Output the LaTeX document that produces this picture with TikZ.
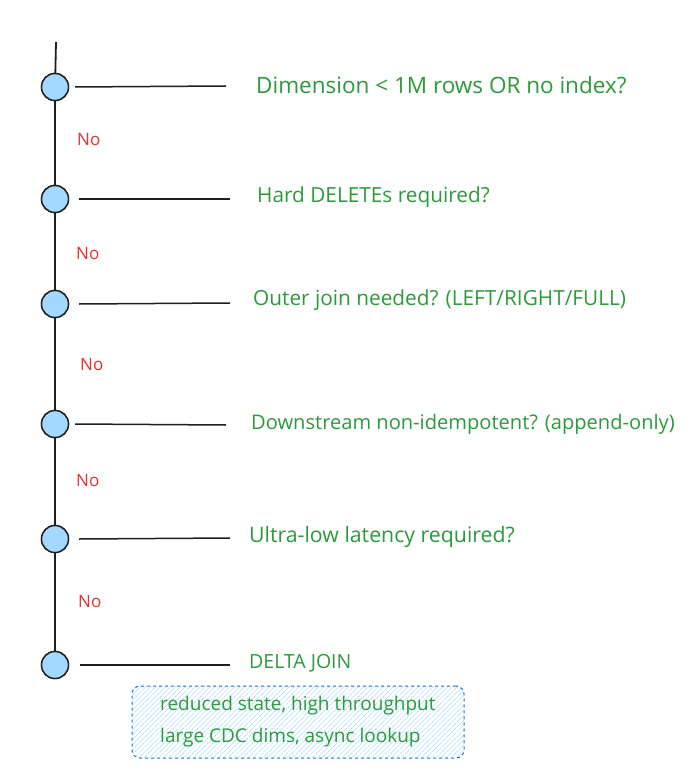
\documentclass[tikz,border=0pt]{standalone}
\usepackage{fontspec}
\setmainfont{Open Sans}
\usepackage{tikz}
\usetikzlibrary{positioning,patterns.meta}
\definecolor{dtInk}{HTML}{1E1E1E}
\definecolor{dtDot}{HTML}{A5D8FF}
\definecolor{dtAsk}{HTML}{2B9A3A}
\definecolor{dtNo}{HTML}{E03131}
\definecolor{dtEdge}{HTML}{1971C2}
\definecolor{dtHatch}{HTML}{A5D8FF}
\tikzset{
  spine/.style    = {line width=1.8pt, draw=dtInk},
  dot/.style      = {circle, minimum size=27pt, inner sep=0pt, fill=dtDot,
                     draw=dtInk, line width=1.4pt},
  branch/.style   = {line width=1.5pt, draw=dtInk},
  ask/.style      = {anchor=west, inner sep=0pt, text=dtAsk,
                     font=\fontsize{22.5}{26}\selectfont},
  asksm/.style    = {ask, font=\fontsize{20.8}{24}\selectfont},
  nolbl/.style    = {anchor=west, inner sep=0pt, text=dtNo,
                     font=\fontsize{17}{20}\selectfont},
  notebox/.style  = {rounded corners=8pt, draw=dtEdge, line width=1pt, dashed,
                     fill=dtHatch!25,
                     pattern={Lines[angle=45,distance=3.5pt,line width=0.5pt]},
                     pattern color=dtHatch, minimum width=332pt,
                     minimum height=72pt},
  note/.style     = {anchor=west, inner sep=0pt, text=dtAsk,
                     font=\fontsize{19}{22}\selectfont},
}
\begin{document}
\begin{tikzpicture}[x=1pt, y=-1pt]
  \useasboundingbox (0,0) rectangle (700,783);

  % the trunk
  \coordinate (top) at (56,42);
  \node[dot] (c1) at (55,87)  {};
  \node[dot] (c2) at (55,199) {};
  \node[dot] (c3) at (55,304) {};
  \node[dot] (c4) at (55,424) {};
  \node[dot] (c5) at (55,539) {};
  \node[dot] (c6) at (55,665) {};
  \draw[spine] (top) -- (c1) -- (c2) -- (c3) -- (c4) -- (c5) -- (c6);
  \foreach \i in {1,...,6} {
    \node[dot] at (c\i) {};
  }

  % branches
  \coordinate (e1) at (226,86);
  \coordinate (e2) at (230,199);
  \coordinate (e3) at (230,303);
  \coordinate (e4) at (226,425);
  \coordinate (e5) at (230,538);
  \coordinate (e6) at (230,665);
  \draw[branch] ([xshift=6pt]c1.east) -- (e1);
  \draw[branch] ([xshift=10pt]c2.east) -- (e2);
  \draw[branch] ([xshift=10pt]c3.east) -- (e3);
  \draw[branch] ([xshift=6pt]c4.east) -- (e4);
  \draw[branch] ([xshift=10pt]c5.east) -- (e5);
  \draw[branch] ([xshift=11pt]c6.east) -- (e6);

  % questions
  \node[ask]   (q1) at (256,85)  {Dimension < 1M rows OR no index?};
  \node[asksm] (q2) at (257,197) {Hard DELETEs required?};
  \node[asksm] (q3) at (253,300) {Outer join needed? (LEFT/RIGHT/FULL)};
  \node[asksm, font=\fontsize{20.1}{24}\selectfont] (q4) at (251,424)
    {Downstream non-idempotent? (append-only)};
  \node[asksm, font=\fontsize{21.3}{24}\selectfont] (q5) at (249,537)
    {Ultra-low latency required?};
  \node[ask, font=\fontsize{19.5}{23}\selectfont] (q6) at (249,663) {DELTA JOIN};

  % answers
  \node[nolbl] (n1) at (77,140) {No};
  \node[nolbl] (n2) at (76,254) {No};
  \node[nolbl] (n3) at (80,365) {No};
  \node[nolbl] (n4) at (76,481) {No};
  \node[nolbl] (n5) at (78,602) {No};

  % outcome note
  \node[notebox] (box) at (298,722) {};
  \node[note] (t1) at (160,706) {reduced state, high throughput};
  \node[note] (t2) at (160,738) {large CDC dims, async lookup};
\end{tikzpicture}
\end{document}
